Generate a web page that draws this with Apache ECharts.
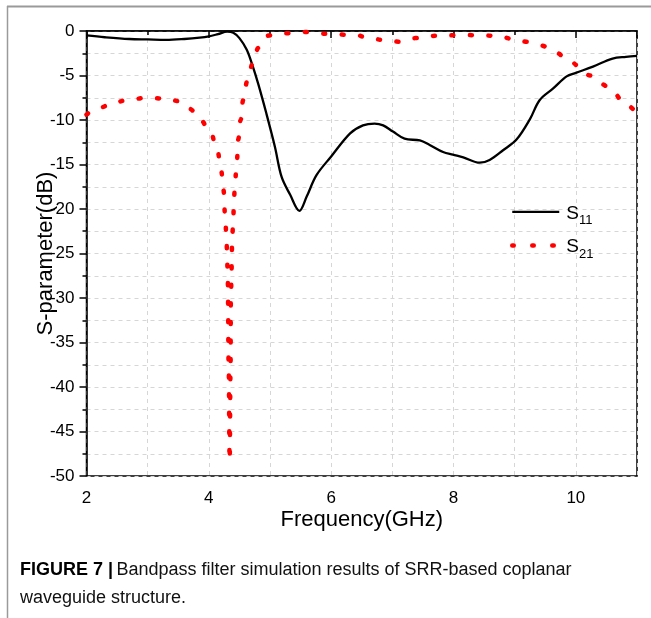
<!DOCTYPE html>
<html>
<head>
<meta charset="utf-8">
<script src="https://cdn.jsdelivr.net/npm/echarts@6/dist/echarts.min.js"></script>
<style>
html,body{margin:0;padding:0;background:#fff;}
#chart{width:651px;height:618px;}
</style>
</head>
<body>
<div id="chart"></div>
<script>
// S11 (black solid)
const s11Freq = [2, 2.3, 2.7, 3.0, 3.3, 3.6, 3.85, 4.0, 4.15, 4.3, 4.4, 4.5, 4.62, 4.72, 4.81, 4.94, 5.08, 5.19, 5.33, 5.48, 5.6, 5.76, 6.0, 6.31, 6.52, 6.71, 6.85, 7.01, 7.2, 7.45, 7.61, 7.83, 7.99, 8.16, 8.43, 8.59, 8.81, 9.03, 9.25, 9.41, 9.63, 9.85, 10.0, 10.28, 10.6, 10.82, 11];
const s11Vals = [-0.5, -0.7, -0.9, -0.95, -1.0, -0.9, -0.75, -0.6, -0.35, -0.08, -0.2, -0.8, -2.1, -4.0, -6.0, -9.25, -13.0, -16.4, -18.4, -20.2, -18.6, -16.2, -14.1, -11.5, -10.6, -10.4, -10.6, -11.3, -12.1, -12.3, -12.8, -13.6, -13.9, -14.2, -14.8, -14.5, -13.4, -12.2, -9.9, -7.75, -6.45, -5.1, -4.7, -4.0, -3.1, -2.9, -2.8];
// S21 (red dotted)
const s21Freq = [2, 2.22, 2.44, 2.68, 2.98, 3.3, 3.53, 3.69, 3.85, 4.02, 4.14, 4.2, 4.24, 4.27, 4.29, 4.30, 4.31, 4.325, 4.34, 4.355, 4.36, 4.37, 4.375, 4.38, 4.40, 4.41, 4.43, 4.46, 4.48, 4.52, 4.56, 4.63, 4.72, 4.81, 4.98, 5.27, 5.55, 5.84, 6.1, 6.41, 6.57, 6.85, 7.1, 7.37, 7.61, 7.86, 8.17, 8.46, 8.74, 8.97, 9.2, 9.44, 9.66, 9.87, 10.05, 10.23, 10.43, 10.62, 10.8, 11];
const s21Vals = [-9.4, -8.6, -8.05, -7.75, -7.5, -7.6, -7.9, -8.76, -9.9, -11.2, -13.4, -15.6, -17.9, -21.3, -23.6, -25.8, -28.1, -38.0, -48.3, -38.0, -30.1, -27.9, -25.7, -23.5, -21.2, -19.0, -16.7, -14.5, -12.2, -10.0, -7.8, -5.6, -3.6, -1.9, -0.5, -0.26, -0.1, -0.3, -0.4, -0.45, -0.7, -1.0, -1.2, -0.8, -0.56, -0.5, -0.45, -0.5, -0.56, -0.9, -1.2, -1.65, -2.4, -3.15, -3.93, -5.0, -6.0, -7.0, -8.2, -9.3];
const xTicks = [2, 4, 6, 8, 10];
const yTicks = [0, -5, -10, -15, -20, -25, -30, -35, -40, -45, -50];
const seriesNames = ['S11', 'S21'];

const toPairs = (xs, ys) => xs.map((x, i) => [x, ys[i]]);
const FONT = '"Liberation Sans", Arial, sans-serif';
const GRID_LINE = {color: '#d6d6d6', type: [4, 4], width: 1};

const chart = echarts.init(document.getElementById('chart'), null, {renderer: 'canvas'});
chart.setOption({
  animation: false,
  backgroundColor: '#fff',
  grid: {left: 86.5, right: 14, top: 31, bottom: 142, show: true, borderColor: '#000', borderWidth: 1.5, backgroundColor: 'transparent'},
  xAxis: {
    type: 'value', min: 2, max: 11, interval: 2,
    name: 'Frequency(GHz)', nameLocation: 'middle', nameGap: 33, nameMoveOverlap: false,
    nameTextStyle: {fontFamily: FONT, fontSize: 22, color: '#000'},
    axisLine: {lineStyle: {color: '#000', width: 1.5}},
    axisTick: {inside: false, length: 7, lineStyle: {color: '#000', width: 1.5}},
    minorTick: {show: true, splitNumber: 2, length: 4, lineStyle: {color: '#000', width: 1.5}},
    axisLabel: {fontFamily: FONT, fontSize: 17, color: '#000', margin: 14,
      formatter: v => xTicks.indexOf(v) >= 0 ? String(v) : ''},
    splitLine: {show: true, lineStyle: GRID_LINE},
    minorSplitLine: {show: true, lineStyle: GRID_LINE}
  },
  yAxis: {
    type: 'value', min: -50, max: 0, interval: 5,
    name: 'S-parameter(dB)', nameLocation: 'middle', nameGap: 30, nameMoveOverlap: false,
    nameTextStyle: {fontFamily: FONT, fontSize: 22, color: '#000'},
    axisLine: {show: true, lineStyle: {color: '#000', width: 1.5}},
    axisTick: {show: true, length: 7, lineStyle: {color: '#000', width: 1.5}},
    minorTick: {show: true, splitNumber: 2, length: 4, lineStyle: {color: '#000', width: 1.5}},
    axisLabel: {fontFamily: FONT, fontSize: 17, color: '#000', margin: 12,
      formatter: v => yTicks.indexOf(v) >= 0 ? String(v) : ''},
    splitLine: {show: true, lineStyle: GRID_LINE},
    minorSplitLine: {show: true, lineStyle: GRID_LINE}
  },
  legend: {
    orient: 'vertical', left: 510, top: 203, padding: 0, itemGap: 10,
    itemWidth: 47, itemHeight: 22,
    itemStyle: {opacity: 0},
    data: [
      {name: seriesNames[0], lineStyle: {width: 2.3}},
      {name: seriesNames[1], lineStyle: {width: 4.5, type: [1.5, 18.5], cap: 'round'}}
    ],
    formatter: n => '{s|S}{sub|' + n.slice(1) + '}',
    textStyle: {color: '#000', padding: [0, 0, 0, 2],
      rich: {
        s: {fontFamily: FONT, fontSize: 19, color: '#000', verticalAlign: 'bottom', lineHeight: 22},
        sub: {fontFamily: FONT, fontSize: 13, color: '#000', verticalAlign: 'bottom', lineHeight: 14, padding: [0, 0, -4, 0]}
      }}
  },
  series: [
    {
      name: seriesNames[0], type: 'line', data: toPairs(s11Freq, s11Vals),
      showSymbol: false, symbol: 'none', smooth: 0.35,
      lineStyle: {color: '#000', width: 2.3}, itemStyle: {color: '#000'}
    },
    {
      name: seriesNames[1], type: 'line', data: toPairs(s21Freq, s21Vals),
      showSymbol: false, symbol: 'none', smooth: 0.4, smoothMonotone: 'x',
      lineStyle: {color: '#ff0000', width: 4.5, type: [2, 16.5], cap: 'round'}, itemStyle: {color: '#ff0000'}
    }
  ],
  graphic: [
    {type: 'line', shape: {x1: 7, y1: 6.5, x2: 651, y2: 6.5}, style: {stroke: '#9a9a9a', lineWidth: 2}, silent: true},
    {type: 'line', shape: {x1: 7.5, y1: 6, x2: 7.5, y2: 618}, style: {stroke: '#9a9a9a', lineWidth: 1.5}, silent: true},
    {type: 'text', left: 20, top: 561, style: {
      text: '{b|FIGURE 7 |} {n|Bandpass filter simulation results of SRR-based coplanar}',
      rich: {
        b: {fontFamily: FONT, fontWeight: 'bold', fontSize: 18, fill: '#000'},
        n: {fontFamily: FONT, fontSize: 18, fill: '#111'}
      }}},
    {type: 'text', left: 20, top: 589, style: {
      text: 'waveguide structure.',
      fontFamily: FONT, fontSize: 18, fill: '#111'}}
  ]
});
</script>
</body>
</html>
